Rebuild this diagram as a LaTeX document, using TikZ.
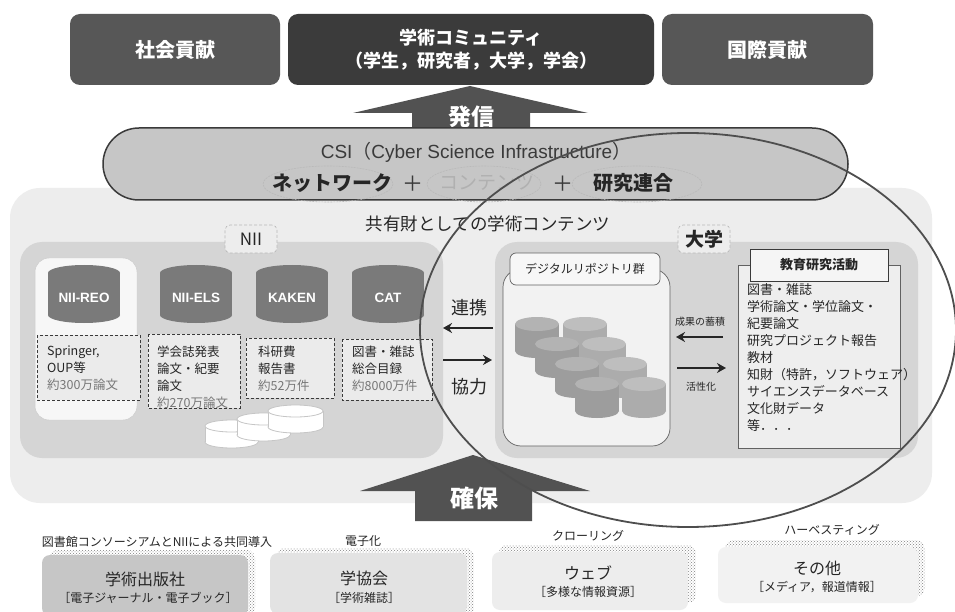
\documentclass[tikz,border=0pt]{standalone}
\usepackage{fontspec}
\setmainfont{Noto Sans CJK JP}
\newfontfamily\latinsans{Liberation Sans}
\usetikzlibrary{arrows.meta,patterns}

\definecolor{boxdark}{HTML}{575757}
\definecolor{boxdarker}{HTML}{3B3B3B}
\definecolor{arrowgray}{HTML}{525252}
\definecolor{csifill}{HTML}{C6C6C6}
\definecolor{panelbg}{HTML}{EDEDED}
\definecolor{subpanel}{HTML}{D5D5D5}
\definecolor{cylnii}{HTML}{7A7A7A}
\definecolor{cylrepo}{HTML}{9D9D9D}
\definecolor{cylrepotop}{HTML}{B3B3B3}
\definecolor{linedark}{HTML}{3A3A3A}
\definecolor{textdark}{HTML}{262626}
\definecolor{textsoft}{HTML}{777777}

\newcommand\fsz[2]{\fontsize{#1}{#2}\selectfont}

% filled cylinder: x0, top, width, height, y radius, body colour, top colour
\newcommand\solidcyl[7]{%
  \pgfmathsetmacro\cylcx{#1+#3/2}%
  \pgfmathsetmacro\cylyt{#2+#5}%
  \pgfmathsetmacro\cylyb{#2+#4-#5}%
  \pgfmathsetmacro\cylxr{#1+#3}%
  \fill[#6] (\cylcx,\cylyb) ellipse[x radius=#3/2, y radius=#5];
  \fill[#6] (#1,\cylyt) rectangle (\cylxr,\cylyb);
  \fill[#7] (\cylcx,\cylyt) ellipse[x radius=#3/2, y radius=#5];
}
% outlined white cylinder: x0, top, width, height, y radius
\newcommand\whitecyl[5]{%
  \pgfmathsetmacro\cylcx{#1+#3/2}%
  \pgfmathsetmacro\cylyt{#2+#5}%
  \pgfmathsetmacro\cylyb{#2+#4-#5}%
  \pgfmathsetmacro\cylxr{#1+#3}%
  \filldraw[fill=white,draw=gray!45,line width=0.8pt] (\cylcx,\cylyb) ellipse[x radius=#3/2, y radius=#5];
  \fill[white] (#1,\cylyt) rectangle (\cylxr,\cylyb);
  \draw[gray!45,line width=0.8pt] (#1,\cylyt) -- (#1,\cylyb) (\cylxr,\cylyt) -- (\cylxr,\cylyb);
  \filldraw[fill=white,draw=gray!45,line width=0.8pt] (\cylcx,\cylyt) ellipse[x radius=#3/2, y radius=#5];
}

\begin{document}
\begin{tikzpicture}[x=1pt,y=-1pt,
  topbox/.style={rounded corners=10pt,text=white,inner sep=0pt,align=center},
  labelbox/.style={draw=gray!55,densely dashed,line width=0.6pt,fill=gray!14,rounded corners=5pt,inner sep=0pt},
  infobox/.style={draw=linedark,densely dashed,line width=0.6pt,fill=gray!16},
  infotext/.style={anchor=north west,align=left,inner sep=0pt,text=textdark,font=\fsz{12.5}{17}},
  cyllabel/.style={text=white,font=\latinsans\fsz{13.5}{16}\bfseries,inner sep=0pt},
  flowarrow/.style={line width=2.8pt,draw=textdark,-{Stealth[length=9pt,width=10pt]}},
  csiword/.style={inner sep=0pt,font=\fsz{20}{24}\bfseries,text=textdark},
  csiring/.style={draw=gray!55,line width=0.6pt,dash pattern=on 2pt off 1pt},
  csiplus/.style={inner sep=0pt,font=\fsz{21}{24}\selectfont,text=linedark},
  caption/.style={inner sep=0pt,font=\fsz{12}{14},text=textdark},
  sourcebox/.style={rounded corners=8pt,inner sep=0pt,align=center,text=textdark},
  dotshadow/.style={pattern=crosshatch dots,pattern color=gray,rounded corners=8pt}
]
\clip (0,0) rectangle (955,612);
\fill[white] (0,0) rectangle (955,612);

% ---------- top row: beneficiaries ----------
\node[topbox,fill=boxdark,minimum width=210,minimum height=71,font=\fsz{20}{24}\bfseries] (social) at (175,49.5) {社会貢献};
\node[topbox,fill=boxdarker,minimum width=366,minimum height=71,font=\fsz{18}{23}\bfseries] (community) at (471,49.5) {学術コミュニティ\\（学生，研究者，大学，学会）};
\node[topbox,fill=boxdark,minimum width=211,minimum height=71,font=\fsz{20}{24}\bfseries] (intl) at (767.5,49.5) {国際貢献};

% ---------- shared contents panel ----------
\node[fill=panelbg,rounded corners=30pt,minimum width=922,minimum height=315,inner sep=0pt] (shared) at (471,345.5) {};

% ---------- outgoing block arrow ----------
\coordinate (sendtip) at (470,86);
\fill[arrowgray] (sendtip) -- (588,113) -- (530,113) -- (530,135) -- (412,135) -- (412,113) -- (353,113) -- cycle;
\node[inner sep=0pt,text=white,font=\fsz{23}{26}\bfseries] (send) at (471,117) {発信};

% ---------- CSI band ----------
\node[fill=csifill,draw=linedark,line width=1.5pt,rounded corners=36pt,minimum width=745,minimum height=72,inner sep=0pt] (csi) at (475.5,164) {};
\node[inner sep=0pt,font=\fsz{19}{22},text=linedark] (csititle) at (476,152) {{\latinsans CSI}（{\latinsans Cyber Science Infrastructure}）};
\draw[csiring] (328,184) ellipse[x radius=65, y radius=18];
\draw[csiring] (484,184) ellipse[x radius=57, y radius=18];
\draw[csiring] (637,184) ellipse[x radius=65, y radius=18];
\node[csiword] (network) at (332,183) {ネットワーク};
\node[csiplus] (plusa) at (413,184) {＋};
\node[inner sep=0pt,font=\fsz{19}{24},text=gray!62] (contents) at (487,183) {コンテンツ};
\node[csiplus] (plusb) at (563,184) {＋};
\node[csiword] (research) at (633,183) {研究連合};

\node[inner sep=0pt,font=\fsz{17.5}{20},text=textdark] (sharedtitle) at (488,224) {共有財としての学術コンテンツ};

% ---------- NII panel ----------
\node[fill=subpanel,rounded corners=22pt,minimum width=423,minimum height=216,inner sep=0pt] (nii) at (231.5,350) {};
\node[labelbox,minimum width=52,minimum height=28,font=\fsz{17}{20},text=textdark] (niilabel) at (251,239) {NII};
\node[fill=gray!6,draw=gray!40,line width=0.5pt,rounded corners=14pt,minimum width=102,minimum height=162,inner sep=0pt] (reopanel) at (86,339) {};

\solidcyl{48}{265}{72}{58}{8}{cylnii}{cylnii}
\solidcyl{160}{265}{72}{58}{8}{cylnii}{cylnii}
\solidcyl{256}{265}{72}{58}{8}{cylnii}{cylnii}
\solidcyl{352}{265}{72}{58}{8}{cylnii}{cylnii}
\node[cyllabel] (reo) at (84,298) {NII-REO};
\node[cyllabel] (els) at (196,298) {NII-ELS};
\node[cyllabel] (kaken) at (292,298) {KAKEN};
\node[cyllabel] (cat) at (388,298) {CAT};

\draw[infobox] (37,335) rectangle (140,400);
\draw[infobox] (148,334) rectangle (240,408);
\draw[infobox] (246,338) rectangle (334,398);
\draw[infobox] (342,339) rectangle (432,400);
\node[infotext] (reotext) at (47,346) {Springer,\\OUP等\\\textcolor{textsoft}{約300万論文}};
\node[infotext] (elstext) at (157,346) {学会誌発表\\論文・紀要\\論文\\\textcolor{textsoft}{約270万論文}};
\node[infotext] (kakentext) at (258,346) {科研費\\報告書\\\textcolor{textsoft}{約52万件}};
\node[infotext] (cattext) at (352,346) {図書・雑誌\\総合目録\\\textcolor{textsoft}{約8000万件}};

\whitecyl{205}{420}{53}{28}{6}
\whitecyl{237}{413}{53}{28}{6}
\whitecyl{268}{405}{55}{28}{6}

% ---------- university panel ----------
\node[fill=subpanel,rounded corners=22pt,minimum width=423,minimum height=216,inner sep=0pt] (univ) at (706.5,350) {};
\node[labelbox,minimum width=52,minimum height=28,font=\fsz{19}{22}\bfseries,text=textdark] (univlabel) at (704,239) {大学};

\node[fill=gray!10,draw=linedark!80,line width=0.7pt,rounded corners=18pt,minimum width=167,minimum height=177,inner sep=0pt] (repobody) at (586.5,357.5) {};
\node[fill=gray!6,draw=linedark!80,line width=0.7pt,rounded corners=6pt,minimum width=150,minimum height=32,inner sep=0pt,font=\fsz{12}{14},text=textdark] (repohead) at (585,269) {デジタルリポジトリ群};

\solidcyl{515}{317}{44}{41}{7}{cylrepo}{cylrepotop}
\solidcyl{563}{317}{44}{41}{7}{cylrepo!85}{cylrepotop!85}
\solidcyl{535}{337}{44}{41}{7}{cylrepo}{cylrepotop}
\solidcyl{582}{337}{44}{41}{7}{cylrepo!85}{cylrepotop!85}
\solidcyl{555}{357}{44}{41}{7}{cylrepo}{cylrepotop}
\solidcyl{603}{357}{44}{41}{7}{cylrepo!85}{cylrepotop!85}
\solidcyl{575}{377}{44}{41}{7}{cylrepo}{cylrepotop}
\solidcyl{622}{377}{44}{41}{7}{cylrepo!85}{cylrepotop!85}

\node[fill=gray!13,draw=linedark!80,line width=0.7pt,minimum width=162,minimum height=183,inner sep=0pt] (activity) at (819,356.5) {};
\node[fill=gray!8,draw=linedark,line width=0.7pt,minimum width=138,minimum height=32,inner sep=0pt,font=\fsz{13}{15}\bfseries,text=textdark] (acthead) at (819,265) {教育研究活動};
\node[anchor=north west,align=left,inner sep=0pt,text=textdark,font=\fsz{13}{17.1}] (actlist) at (747,283)
  {図書・雑誌\\学術論文・学位論文・\\紀要論文\\研究プロジェクト報告\\教材\\知財（特許，ソフトウェア）\\サイエンスデータベース\\文化財データ\\等．．．};

% accumulation / activation between repository and activities
\node[inner sep=0pt,font=\fsz{10}{12},text=textdark] (accum) at (700,322) {成果の蓄積};
\node[inner sep=0pt,font=\fsz{10}{12},text=textdark] (activate) at (701,387) {活性化};
\coordinate (accumR) at (723,337);
\coordinate (accumL) at (676,337);
\coordinate (actL) at (677,368);
\coordinate (actR) at (726,368);
\draw[flowarrow] (accumR) -- (accumL);
\draw[flowarrow] (actL) -- (actR);

% cooperation between NII and universities
\node[inner sep=0pt,font=\fsz{18}{20},text=textdark] (renkei) at (469,308) {連携};
\node[inner sep=0pt,font=\fsz{18}{20},text=textdark] (kyoryoku) at (469,387) {協力};
\coordinate (coopR) at (493,328);
\coordinate (coopL) at (443,328);
\coordinate (coopL2) at (443,360);
\coordinate (coopR2) at (492,360);
\draw[flowarrow] (coopR) -- (coopL);
\draw[flowarrow] (coopL2) -- (coopR2);

% ---------- securing block arrow ----------
\fill[arrowgray] (473,455) -- (590,491) -- (532,491) -- (532,521) -- (415,521) -- (415,491) -- (360,491) -- cycle;
\node[inner sep=0pt,text=white,font=\fsz{24}{27}\bfseries] (secure) at (474,498) {確保};

% ---------- university scope ellipse ----------
\draw[draw=linedark!90,line width=1.8pt] (688,330) ellipse[x radius=268, y radius=197];

% ---------- content sources ----------
\node[caption] (capa) at (157,542) {図書館コンソーシアムとNIIによる共同導入};
\node[caption] (capb) at (363,541) {電子化};
\node[caption] (capc) at (588,536) {クローリング};
\node[caption] (capd) at (832,530) {ハーベスティング};

\fill[dotshadow] (49,550) rectangle (255,616);
\fill[dotshadow] (277,548) rectangle (474,616);
\fill[dotshadow] (499,545) rectangle (696,603);
\fill[dotshadow] (725,540) rectangle (925,596);

\node[sourcebox,fill=gray!45,minimum width=206,minimum height=61] (publisher) at (145,585.5) {};
\node[sourcebox,fill=gray!22,minimum width=197,minimum height=61] (society) at (368.5,583.5) {};
\node[sourcebox,fill=gray!14,minimum width=196,minimum height=58] (web) at (590,581) {};
\node[sourcebox,fill=gray!10,minimum width=200,minimum height=56] (other) at (818,575) {};

\node[inner sep=0pt,font=\fsz{16}{18},text=textdark] (pubtitle) at (145,579) {学術出版社};
\node[inner sep=0pt,font=\fsz{12}{14},text=textdark] (pubsub) at (148,598) {［電子ジャーナル・電子ブック］};
\node[inner sep=0pt,font=\fsz{16}{18},text=textdark] (soctitle) at (364,578) {学協会};
\node[inner sep=0pt,font=\fsz{12}{14},text=textdark] (socsub) at (364,598) {［学術雑誌］};
\node[inner sep=0pt,font=\fsz{16}{18},text=textdark] (webtitle) at (588,573) {ウェブ};
\node[inner sep=0pt,font=\fsz{12}{14},text=textdark] (websub) at (588,592) {［多様な情報資源］};
\node[inner sep=0pt,font=\fsz{16}{18},text=textdark] (othertitle) at (817,568) {その他};
\node[inner sep=0pt,font=\fsz{12}{14},text=textdark] (othersub) at (817,587) {［メディア，報道情報］};

\end{tikzpicture}
\end{document}
